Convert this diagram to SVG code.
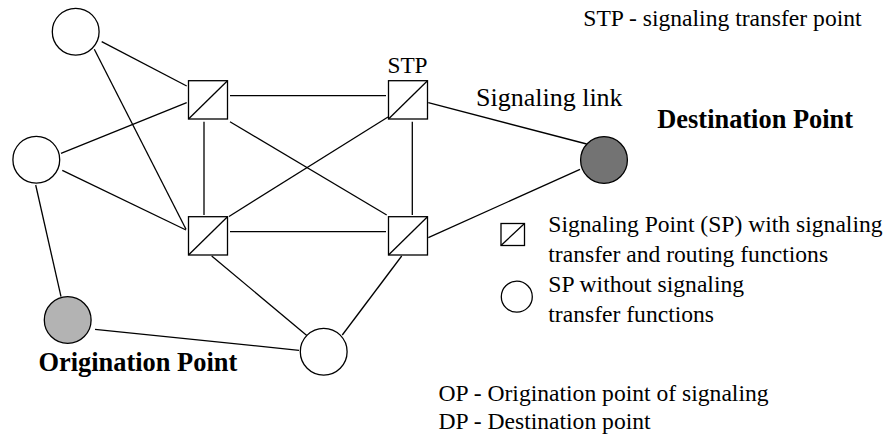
<svg xmlns="http://www.w3.org/2000/svg" width="893" height="436" viewBox="0 0 893 436">
<style>
.ln{stroke:#000;stroke-width:1.3;fill:none}
.nd{stroke:#000;stroke-width:1.3;fill:#fff}
</style>
<rect width="893" height="436" fill="#fff"/>
<g id="connectors">
<line class="ln" x1="101.7" y1="41.7" x2="186.7" y2="86"/>
<line class="ln" x1="94.3" y1="49.3" x2="186" y2="229.3"/>
<line class="ln" x1="61" y1="153.3" x2="186.7" y2="102.7"/>
<line class="ln" x1="62.3" y1="170.3" x2="186" y2="230"/>
<line class="ln" x1="35.7" y1="185" x2="61" y2="296.7"/>
<line class="ln" x1="230" y1="95.7" x2="386" y2="95.7"/>
<line class="ln" x1="204" y1="121.7" x2="204" y2="215"/>
<line class="ln" x1="230" y1="121.7" x2="386.7" y2="215"/>
<line class="ln" x1="388" y1="117" x2="229" y2="216.5"/>
<line class="ln" x1="412.3" y1="121.7" x2="412.3" y2="215"/>
<line class="ln" x1="428.3" y1="102.7" x2="586.7" y2="144"/>
<line class="ln" x1="230" y1="231.7" x2="386" y2="231.7"/>
<line class="ln" x1="428.3" y1="237.7" x2="580" y2="169.3"/>
<line class="ln" x1="211.7" y1="256" x2="308.3" y2="336.7"/>
<line class="ln" x1="401.7" y1="256" x2="342.3" y2="335"/>
<line class="ln" x1="95" y1="329.3" x2="299" y2="350.3"/>
</g>
<g id="sp-top"><circle class="nd" cx="75.7" cy="31.7" r="23.4"/></g>
<g id="sp-mid"><circle class="nd" cx="36.3" cy="159.7" r="23.4"/></g>
<g id="origination"><circle class="nd" cx="67.7" cy="320" r="23.4" style="fill:#b3b3b3"/><text x="38.5" y="371" font-family="Liberation Serif" style="font-family:&quot;Liberation Serif&quot;,serif" font-weight="bold" font-size="26.4">Origination Point</text></g>
<g id="sp-bottom"><circle class="nd" cx="323.7" cy="351.7" r="23.4"/></g>
<g id="destination"><circle class="nd" cx="604" cy="160" r="23.4" style="fill:#737373"/><text x="657.3" y="128.3" font-family="Liberation Serif" style="font-family:&quot;Liberation Serif&quot;,serif" font-weight="bold" font-size="26.4">Destination Point</text></g>
<g id="stp-1"><rect class="nd" x="188.5" y="80.7" width="39" height="38.3"/><line class="ln" x1="188.5" y1="119" x2="227.5" y2="80.7"/></g>
<g id="stp-2"><rect class="nd" x="388.5" y="80.7" width="39" height="38.3"/><line class="ln" x1="388.5" y1="119" x2="427.5" y2="80.7"/><text x="407.5" y="73.3" font-family="Liberation Serif" style="font-family:&quot;Liberation Serif&quot;,serif" font-size="23.3" text-anchor="middle">STP</text></g>
<g id="stp-3"><rect class="nd" x="188.5" y="216.7" width="39" height="38.3"/><line class="ln" x1="188.5" y1="255" x2="227.5" y2="216.7"/></g>
<g id="stp-4"><rect class="nd" x="388.5" y="216.7" width="39" height="38.3"/><line class="ln" x1="388.5" y1="255" x2="427.5" y2="216.7"/></g>
<g id="labels">
<text x="476" y="106" font-family="Liberation Serif" style="font-family:&quot;Liberation Serif&quot;,serif" font-size="26">Signaling link</text>
<text x="583.3" y="26" font-family="Liberation Serif" style="font-family:&quot;Liberation Serif&quot;,serif" font-size="23.6">STP - signaling transfer point</text>
<text x="438.5" y="400.5" font-family="Liberation Serif" style="font-family:&quot;Liberation Serif&quot;,serif" font-size="23.6">OP - Origination point of signaling</text>
<text x="438.5" y="428.5" font-family="Liberation Serif" style="font-family:&quot;Liberation Serif&quot;,serif" font-size="23.6">DP - Destination point</text>
</g>
<g id="legend">
<rect class="nd" x="501" y="223.5" width="23.5" height="22"/><line class="ln" x1="501" y1="245.5" x2="524.5" y2="223.5"/>
<circle class="nd" cx="516.8" cy="296.7" r="15.5"/>
<text x="548.3" y="232" font-family="Liberation Serif" style="font-family:&quot;Liberation Serif&quot;,serif" font-size="23.6">Signaling Point (SP) with signaling</text>
<text x="548.3" y="262" font-family="Liberation Serif" style="font-family:&quot;Liberation Serif&quot;,serif" font-size="23.6">transfer and routing functions</text>
<text x="548.3" y="292" font-family="Liberation Serif" style="font-family:&quot;Liberation Serif&quot;,serif" font-size="23.6">SP without signaling</text>
<text x="548.3" y="322" font-family="Liberation Serif" style="font-family:&quot;Liberation Serif&quot;,serif" font-size="23.6">transfer functions</text>
</g>
</svg>
